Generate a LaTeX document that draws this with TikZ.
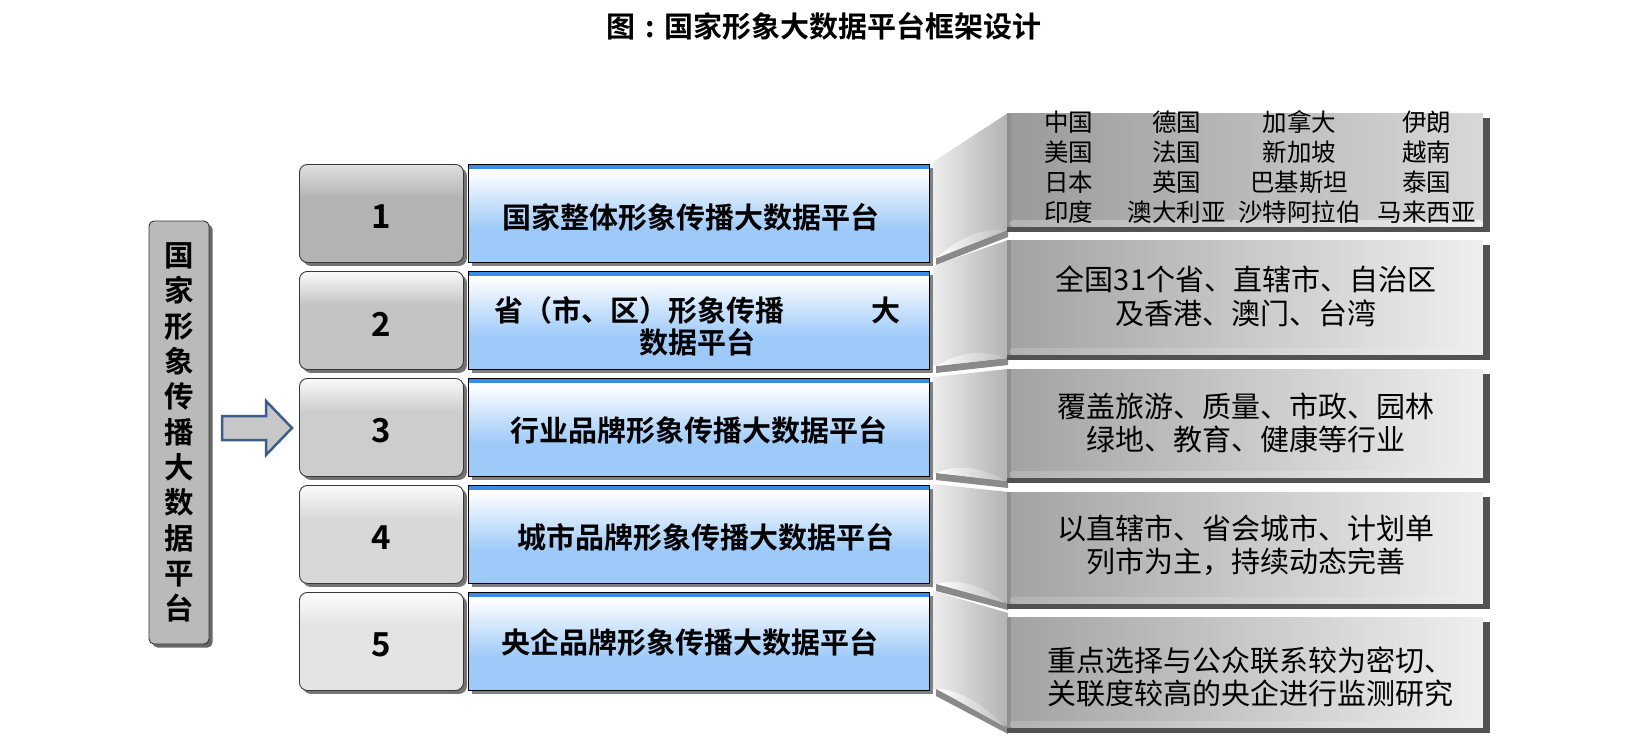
\documentclass[tikz,border=0pt]{standalone}
\usepackage{fontspec}
\usepackage{array}
\setmainfont{Noto Sans CJK SC}[BoldFont={Noto Sans CJK SC Bold}]
\usetikzlibrary{calc}

\definecolor{nA}{HTML}{B3B3B3}\definecolor{nAt}{HTML}{E0E0E0}
\definecolor{nB}{HTML}{C4C4C4}\definecolor{nBt}{HTML}{FAFAFA}
\definecolor{nC}{HTML}{CDCDCD}\definecolor{nCt}{HTML}{FAFAFA}
\definecolor{nD}{HTML}{D8D8D8}\definecolor{nDt}{HTML}{FBFBFB}
\definecolor{nE}{HTML}{E4E4E4}\definecolor{nEt}{HTML}{FCFCFC}
\definecolor{blueB}{HTML}{9ECAF9}
\definecolor{blueTop}{HTML}{3A8DE6}
\definecolor{arrowblue}{HTML}{3B5E8C}
\definecolor{leftgray}{HTML}{BABABA}
\definecolor{panL}{HTML}{EDEDED}
\definecolor{panR}{HTML}{B2B2B2}
\definecolor{panDark}{HTML}{8A8A8A}
\definecolor{rL}{HTML}{A2A2A2}
\definecolor{rR}{HTML}{EFEFEF}
\definecolor{rAL}{HTML}{9A9A9A}
\definecolor{rAR}{HTML}{D8D8D8}

\pgfdeclareverticalshading{shA}{100bp}{color(0bp)=(nA); color(58bp)=(nA); color(75bp)=(nAt); color(100bp)=(nAt)}
\pgfdeclareverticalshading{shB}{100bp}{color(0bp)=(nB); color(58bp)=(nB); color(75bp)=(nBt); color(100bp)=(nBt)}
\pgfdeclareverticalshading{shC}{100bp}{color(0bp)=(nC); color(58bp)=(nC); color(75bp)=(nCt); color(100bp)=(nCt)}
\pgfdeclareverticalshading{shD}{100bp}{color(0bp)=(nD); color(58bp)=(nD); color(75bp)=(nDt); color(100bp)=(nDt)}
\pgfdeclareverticalshading{shE}{100bp}{color(0bp)=(nE); color(58bp)=(nE); color(75bp)=(nEt); color(100bp)=(nEt)}
\pgfdeclareverticalshading{blueshade}{100bp}{color(0bp)=(blueB); color(25bp)=(blueB); color(42bp)=(blueB); color(72bp)=(white); color(100bp)=(white)}

\begin{document}
\begin{tikzpicture}[x=1pt,y=-1pt,
  shadowed/.style={preaction={fill=#1,transform canvas={shift={(3.5pt,-3.5pt)}}}},
  numbox/.style={draw=black!78,line width=0.9pt,rounded corners=8pt,minimum width=164pt,minimum height=98pt,anchor=north west,inner sep=0pt,shade,shading=#1,shadowed=black!55},
  numtext/.style={font=\bfseries\fontsize{33}{33}\selectfont,inner sep=0pt},
  bluebox/.style={draw=black,line width=0.9pt,minimum width=461pt,minimum height=98pt,anchor=north west,inner sep=0pt,shade,shading=blueshade,shadowed=black!50},
  bluetext/.style={font=\bfseries\fontsize{29}{32}\selectfont,inner sep=0pt,align=center},
  rbox/.style={minimum width=476pt,anchor=north west,inner sep=0pt,left color=rL,right color=rR},
  rtext/.style={font=\fontsize{29}{33.5}\selectfont,inner sep=0pt,align=center},
  titletext/.style={font=\bfseries\fontsize{29}{29}\selectfont,inner sep=0pt}
]
\useasboundingbox (0,0) rectangle (1649,739);

% title
\node[titletext] (title) at (824,26) {图\makebox[1em][c]{:}国家形象大数据平台框架设计};

% left vertical box
\node[draw=black!80,line width=0.9pt,rounded corners=5pt,fill=leftgray,shadowed=black!60,
      minimum width=60pt,minimum height=423pt,inner sep=0pt,align=center,
      font=\bfseries\fontsize{29.5}{35.3}\selectfont] (L) at (179,432.5)
  {国\\家\\形\\象\\传\\播\\大\\数\\据\\平\\台};

% block arrow
\draw[arrowblue,line width=2.5pt,fill=black!22] (222,416) -- (266,416) -- (266,401) -- (292,428) -- (266,455) -- (266,440) -- (222,440) -- cycle;

% number boxes
\foreach \i/\y/\s in {1/164/shA,2/271/shB,3/378/shC,4/485/shD,5/592/shE}{
  \node[numbox=\s] (n\i) at (299,\y) {};
  \node[numtext] (d\i) at (381,\y+53) {\i};
}

% blue boxes
\foreach \i/\y in {1/164,2/271,3/378,4/485,5/592}{
  \node[bluebox] (b\i) at (468,\y) {};
  \fill[blueTop] ([shift={(0.5pt,-0.5pt)}]b\i.north west) rectangle ([shift={(-0.5pt,-4.5pt)}]b\i.north east);
}
\node[bluetext] (bt1) at (691,217) {国家整体形象传播大数据平台};
\node[bluetext] (bt2) at (697,326) {省（市、区）形象传播　　　大\\数据平台};
\node[bluetext] (bt3) at (699,430) {行业品牌形象传播大数据平台};
\node[bluetext] (bt4) at (706,537) {城市品牌形象传播大数据平台};
\node[bluetext] (bt5) at (690,642) {央企品牌形象传播大数据平台};

% connecting panels
\foreach \i/\tl/\tr/\bl/\br in {1/162/113/258/230,2/266/240/366/358,3/377/369/473/481,4/484/492/584/603,5/591/613/689/727}{
  \shade[left color=panL,right color=panR] (933,\tl) -- (1008,\tr) -- (1008,\br) -- (933,\bl) -- cycle;
  \fill[panDark] (936,\bl) -- (1008,\br) -- (1008,\br+7) -- (936,\bl+7) -- cycle;
  \shade[left color=white,right color=black!25]
    (937,\bl) .. controls ($(937,\bl)!0.3!(1005,\br)+(0,-12)$) and ($(937,\bl)!0.7!(1005,\br)+(0,-11)$) .. (1005,\br) -- cycle;
}

% right boxes
\foreach \i/\t/\b in {1/113/230,2/240/358,3/369/481,4/492/607,5/617/731}{
  \ifnum\i=1
    \node[rbox,left color=rAL,right color=rAR,minimum height=\b-\t] (r\i) at (1007,\t) {};
  \else
    \node[rbox,minimum height=\b-\t] (r\i) at (1007,\t) {};
  \fi
  \fill[black!12!rL] (1007,\t) rectangle (1011,\b);
  \shade[left color=black!30,right color=black!6,rounded corners=3pt] (1010,\b-10) rectangle (1483,\b-3);
  \fill[black!68] (1007,\b-3) rectangle (1490,\b+2);
  \fill[black!68] (1483,\t+5) rectangle (1490,\b+2);
}

% right box texts
\node[font=\fontsize{24.5}{30}\selectfont,inner sep=0pt] (rt1) at (1254,170) {%
\setlength{\tabcolsep}{0pt}%
\begin{tabular}{>{\centering\arraybackslash}p{100pt}>{\centering\arraybackslash}p{117pt}>{\centering\arraybackslash}p{128pt}>{\centering\arraybackslash}p{126pt}}
中国 & 德国 & 加拿大 & 伊朗\\
美国 & 法国 & 新加坡 & 越南\\
日本 & 英国 & 巴基斯坦 & 泰国\\
印度 & 澳大利亚 & 沙特阿拉伯 & 马来西亚
\end{tabular}};
\node[rtext] (rt2) at (1246,296.5) {全国31个省、直辖市、自治区\\及香港、澳门、台湾};
\node[rtext] (rt3) at (1246,423) {覆盖旅游、质量、市政、园林\\绿地、教育、健康等行业};
\node[rtext] (rt4) at (1246,545) {以直辖市、省会城市、计划单\\列市为主，持续动态完善};
\node[rtext] (rt5) at (1250,677) {重点选择与公众联系较为密切、\\关联度较高的央企进行监测研究};
\end{tikzpicture}
\end{document}
